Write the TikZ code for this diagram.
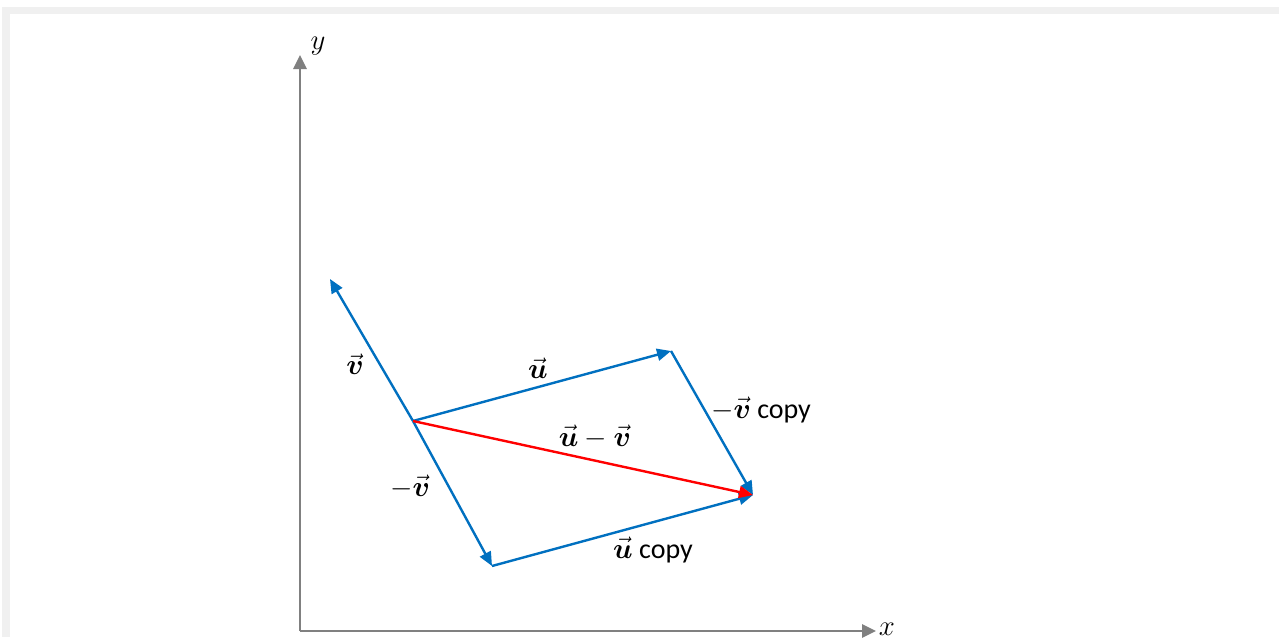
\documentclass[tikz,border=0pt]{standalone}
\usepackage{amsmath, amssymb}
\usepackage{fontspec}
\setmainfont{Carlito}
\usetikzlibrary{arrows.meta}
\definecolor{vecblue}{RGB}{0,112,192}
\definecolor{axisgray}{RGB}{128,128,128}
\definecolor{framegray}{RGB}{240,240,240}
\newcommand{\bvec}[1]{\vec{\boldsymbol{#1}}}
\tikzset{axis/.style={draw=axisgray, line width=1.3pt, -{Triangle[length=7pt,width=6.5pt]}},
	vecline/.style={draw=vecblue, line width=1.2pt, -{Triangle[length=7pt,width=6pt]}},
	diffline/.style={draw=red, line width=1.2pt, -{Triangle[length=7pt,width=6pt]}},
	lbl/.style={inner sep=0pt, font=\fontsize{14}{16}\selectfont}}

\begin{document}
\begin{tikzpicture}[x=0.5pt, y=-0.5pt]
				\useasboundingbox (0,0) rectangle (1279,637);
				\fill[framegray](2,7) rectangle (1279,637);
				\fill[white](10,14) rectangle (1279,637);
				%
				\coordinate (O) at (300,631);
				\coordinate (ytip) at (300,55);
				\coordinate (xtip) at (876,631);
				\coordinate (A) at (413,421);
				\coordinate (vtip) at (330,279);
				\coordinate (B) at (492,566);
				\coordinate (C) at (671,351);
				\coordinate (D) at (753,495);
				%
				\draw[axis](O)--(ytip);
				\draw[axis](O)--(xtip);
				\draw[vecline](A)--(vtip);
				\draw[vecline](A)--(B);
				\draw[vecline](A)--(C);
				\draw[vecline](C)--(D);
				\draw[vecline](B)--(D);
				\draw[diffline](A)--(D);
				%
				\node[lbl] (ylbl) at (318,46) {$y$};
				\node[lbl] (xlbl) at (887,629) {$x$};
				\node[lbl] (vlbl) at (355,364) {$\bvec{v}$};
				\node[lbl] (mvlbl) at (410,487) {$-\bvec{v}$};
				\node[lbl] (ulbl) at (538,368) {$\bvec{u}$};
				\node[lbl] (uvlbl) at (595,437) {$\bvec{u}-\bvec{v}$};
				\node[lbl] (mvclbl) at (761,410) {$-\bvec{v}$ copy};
				\node[lbl] (uclbl) at (653,550) {$\bvec{u}$ copy};
			\end{tikzpicture}
\end{document}
